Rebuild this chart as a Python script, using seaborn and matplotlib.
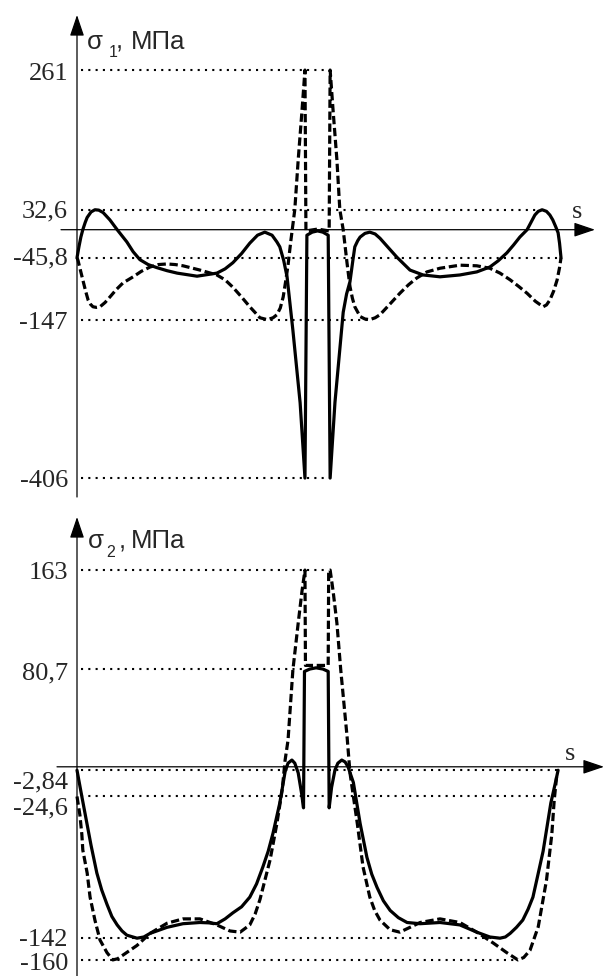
import numpy as np
import pandas as pd
import matplotlib
matplotlib.use("Agg")
import matplotlib.pyplot as plt
import seaborn as sns

# ---------------- data ----------------
# upper chart: sigma_1, MPa  (s in arbitrary units 0..100)
s1_solid = [0, 0.4, 0.8, 1.2, 1.7, 2.1, 2.9, 3.7, 4.5, 5.4, 6.8, 8.3, 10.3, 11.6,
            13.0, 14.7, 16.5, 18.6, 20.7, 24.8, 28.9, 30.6, 32.2, 34.0, 35.7, 37.3,
            38.8, 40.3, 41.3, 41.9, 42.7, 43.4, 44.6, 46.1, 47.1,
            47.5, 48.6, 49.7, 50.8, 51.9,
            52.3, 53.3, 55.0, 55.7, 56.4, 57.0, 57.4, 58.0, 58.5, 59.5, 60.5, 61.6,
            62.6, 64.4, 66.1, 68.8, 71.5, 75.0, 79.1, 82.6, 85.3, 87.0, 88.8, 90.2,
            91.5, 93.0, 94.6, 95.3, 96.1, 97.0, 97.7, 98.3, 98.9, 99.4, 99.7, 100]
sig1_solid = [-45.8, -28, -12, 0, 12, 20, 29, 32.6, 32, 28, 16, 0, -20, -36,
              -49, -57, -62, -67, -71, -76, -71, -64, -54, -39, -22, -9,
              -4, -9, -20, -28, -50, -77, -164, -283, -406,
              -9, -4, -2, -4, -9,
              -406, -282, -135, -105, -85, -50, -28, -18, -12, -6, -4, -7,
              -14, -30, -45, -66, -74, -77, -74, -69, -61, -51, -38, -25,
              -12, 0, 24, 30, 32.6, 30, 24, 16, 5, -5, -22, -45.8]

s1_dash = [0, 0.2, 0.7, 1.2, 1.8, 2.3, 2.8, 3.3, 4.0, 4.75, 5.8, 6.8, 8.1, 9.5,
           11.6, 13.3, 15.1, 16.8, 18.6, 20.3, 21.9, 25.4, 28.9, 30.6, 32.2, 34.0,
           35.7, 37.8, 39.3, 40.5, 41.3, 42.0, 42.6, 43.1, 43.6, 44.2, 45.0, 45.7,
           46.5, 47.1,
           47.3, 49.7, 52.1,
           52.3, 52.9, 53.7, 54.3, 55.0, 55.8, 56.4, 56.9, 57.4, 58.5, 59.5, 60.5,
           61.6, 62.6, 64.6, 66.7, 68.5, 70.2, 72.3, 75.0, 79.1, 82.6, 85.3, 87.4,
           89.5, 91.3, 93.0, 94.7, 96.3, 97.0, 97.7, 98.5, 99.2, 99.7, 100]
sig1_dash = [-45.8, -50, -66, -82, -101, -115, -122, -126, -127, -126, -119, -110, -98, -87,
             -77, -68, -61, -57, -56, -57, -59, -66, -74, -82, -94, -110,
             -126, -144, -147, -144, -139, -128, -110, -85, -58, -17, 33, 114,
             196, 261,
             -2, 1, -2,
             261, 196, 114, 33, 0, -55, -93, -112, -126, -142, -146, -147,
             -144, -139, -122, -104, -90, -79, -69, -63, -58, -59, -63, -71,
             -82, -93, -104, -117, -126, -123, -115, -100, -82, -62, -45.8]

ticks1 = [261, 32.6, -45.8, -147, -406]
ticks1_text = ["261", "32,6", "-45,8", "-147", "-406"]
ticks1_end = [52.3, 96.1, 100, 60.5, 52.3]      # where each dotted guide ends (s)

# lower chart: sigma_2, MPa
s2_solid = [0, 1.0, 2.1, 2.9, 4.1, 5.1, 6.2, 7.2, 8.3, 9.3, 10.3, 12.4, 13.8, 15.1,
            18.6, 21.9, 25.4, 27.2, 28.9, 30.6, 32.2, 34.0, 35.7, 37.1, 38.4, 39.5,
            40.5, 41.9, 43.0, 43.6, 44.4, 45.0, 45.7, 46.4, 46.8,
            47.0, 48.1, 49.4, 50.8, 51.9,
            52.1, 52.6, 53.3, 53.9, 54.7, 55.4, 56.0, 57.1, 57.8, 58.5, 59.9, 60.9,
            62.0, 63.3, 64.7, 66.4, 68.2, 70.9, 75.0, 79.1, 82.6, 85.3, 87.4, 88.5,
            89.5, 90.8, 92.1, 93.2, 94.2, 95.2, 96.3, 97.1, 97.9, 98.8, 99.4]
sig2_solid = [-2.84, -24.6, -48, -65, -88, -102, -114, -124, -131, -136, -139.5, -142, -141, -138,
              -133, -130, -129, -129.3, -130, -126, -121, -116, -108, -97, -83, -70,
              -55, -30, -4, 3, 5.6, 3, -5, -22, -34,
              79, 81, 82, 81, 79,
              -34, -17, -2.6, 3, 5.6, 4, 0, -13, -30, -47, -75, -89,
              -100, -111, -119, -125, -129, -130, -129, -131, -137, -141, -142, -141,
              -138, -133, -127, -118, -108, -90, -70, -50, -30, -14, -2.84]

s2_dash = [0, 0.6, 1.0, 1.2, 2.1, 2.7, 3.7, 4.75, 6.2, 7.4, 8.4, 9.5, 12.4, 15.1,
           18.6, 21.9, 25.4, 28.9, 31.6, 33.7, 35.7, 36.8, 37.8, 39.9, 41.3, 42.4,
           43.0, 43.6, 44.6, 45.7, 46.5, 47.1,
           47.2, 49.5, 51.9,
           52.0, 52.3, 52.9, 53.7, 54.5, 55.8, 56.4, 57.9, 59.1, 60.5, 61.5, 62.6,
           64.7, 66.7, 68.8, 70.9, 75.0, 79.1, 82.6, 86.0, 88.8, 91.1, 92.3, 93.6,
           95.3, 97.0, 98.1, 98.6, 99.1]
sig2_dash = [-24.6, -40, -56, -69, -88, -108, -127, -143.5, -154, -160, -159, -156, -148, -138,
             -129.6, -126, -126, -131, -136, -137, -131, -122, -110, -77, -47, -19,
             5.6, 22, 80, 119, 146, 163,
             84, 84, 84,
             163, 163, 146, 119, 80, 25, -5, -46.6, -83, -108, -119, -127,
             -135, -137, -133, -129, -126, -129, -137, -146, -154, -160, -158, -152,
             -132.5, -94, -56, -27.5, -8]

ticks2 = [163, 80.7, -2.84, -24.6, -142, -160]
ticks2_text = ["163", "80,7", "-2,84", "-24,6", "-142", "-160"]
ticks2_end = [51.9, 47.1, 99.4, 97.9, 87.4, 91.1]

# ---------------- drawing ----------------
sns.set_style("white")
plt.rcParams["font.family"] = ["Liberation Serif", "DejaVu Serif"]

W, H = 607, 976
fig = plt.figure(figsize=(W / 100, H / 100), dpi=100)

X0, KX = 77.0, 4.84          # pixel of s=0, pixels per s-unit
xlim = (-X0 / KX, (W - X0) / KX)

# top panel: rows 0..496 px, zero at 229.7 px, 0.6117 px per MPa
TOP_SPLIT = 496
y0t, kyt = 229.7, 0.6117
ax1 = fig.add_axes([0, (H - TOP_SPLIT) / H, 1, TOP_SPLIT / H])
ax1.set_xlim(*xlim)
ax1.set_ylim((y0t - TOP_SPLIT) / kyt, y0t / kyt)

# bottom panel: rows 496..976 px, zero at 766.8 px, 1.207 px per MPa
y0b, kyb = 766.8, 1.207
ax2 = fig.add_axes([0, 0, 1, (H - TOP_SPLIT) / H])
ax2.set_xlim(*xlim)
ax2.set_ylim((y0b - H) / kyb, (y0b - TOP_SPLIT) / kyb)

for ax in (ax1, ax2):
    ax.set_axis_off()

LW = 2.3
dash_ls = (0, (2.6, 1.15))
dot_ls = (0, (1, 2.5))


def draw_curves(ax, s_sol, v_sol, s_dsh, v_dsh):
    d_sol = pd.DataFrame({"s": s_sol, "sigma": v_sol})
    d_dsh = pd.DataFrame({"s": s_dsh, "sigma": v_dsh})
    sns.lineplot(data=d_dsh, x="s", y="sigma", sort=False, estimator=None,
                 color="black", lw=LW, linestyle=dash_ls, ax=ax, zorder=3)
    sns.lineplot(data=d_sol, x="s", y="sigma", sort=False, estimator=None,
                 color="black", lw=LW, ax=ax, zorder=4)


def draw_axes(ax, s_from, s_to, v_from, v_to):
    arrow = dict(arrowstyle="-|>,head_length=0.65,head_width=0.22", lw=0.9,
                 color="black", shrinkA=0, shrinkB=0, mutation_scale=20)
    ax.annotate("", xy=(s_to, 0), xytext=(s_from, 0), arrowprops=arrow,
                annotation_clip=False, zorder=2)
    ax.annotate("", xy=(0, v_to), xytext=(0, v_from), arrowprops=arrow,
                annotation_clip=False, zorder=2)


def draw_ticks(ax, vals, texts, ends, dys):
    for v, t, e, dy in zip(vals, texts, ends, dys):
        ax.plot([0.9, e], [v, v], color="black", lw=1.5, linestyle=dot_ls,
                zorder=1, clip_on=False)
        ax.annotate(t, xy=(0, v), xytext=(-9, dy), textcoords="offset pixels",
                    ha="right", va="baseline", fontsize=19,
                    family="Liberation Serif", annotation_clip=False)


# top
draw_curves(ax1, s1_solid, sig1_solid, s1_dash, sig1_dash)
draw_axes(ax1, (61 - X0) / KX, (595 - X0) / KX, (y0t - 497) / kyt, (y0t - 15) / kyt)
draw_ticks(ax1, ticks1, ticks1_text, ticks1_end, [-10, -8, -7, -9, -9])

# bottom
draw_curves(ax2, s2_solid, sig2_solid, s2_dash, sig2_dash)
draw_axes(ax2, (57 - X0) / KX, (604 - X0) / KX, (y0b - 990) / kyb, (y0b - 517) / kyb)
draw_ticks(ax2, ticks2, ticks2_text, ticks2_end, [-9, -10, -18, -18, -8, -10])

for ax in (ax1, ax2):
    ax.set_xlabel("")
    ax.set_ylabel("")


def ptext(x, y, s, **kw):
    fig.text(x / W, 1 - y / H, s, ha="left", va="baseline", **kw)


sans = ["Liberation Sans", "DejaVu Sans"]
# axis names
ptext(87, 49, "σ", fontsize=18.5, family=sans)
ptext(109, 57, "1", fontsize=11.5, family=sans)
ptext(116, 49, ",", fontsize=18.5, family=sans)
ptext(131, 49, "МПа", fontsize=18.5, family=sans)

ptext(88, 548, "σ", fontsize=18.5, family=sans)
ptext(106, 557, "2", fontsize=11.5, family=sans)
ptext(119, 548, ",", fontsize=18.5, family=sans)
ptext(131, 548, "МПа", fontsize=18.5, family=sans)

ptext(572, 218, "s", fontsize=19, family="Liberation Serif")
ptext(565, 760, "s", fontsize=19, family="Liberation Serif")

fig.savefig("out.png", dpi=100, facecolor="white")
